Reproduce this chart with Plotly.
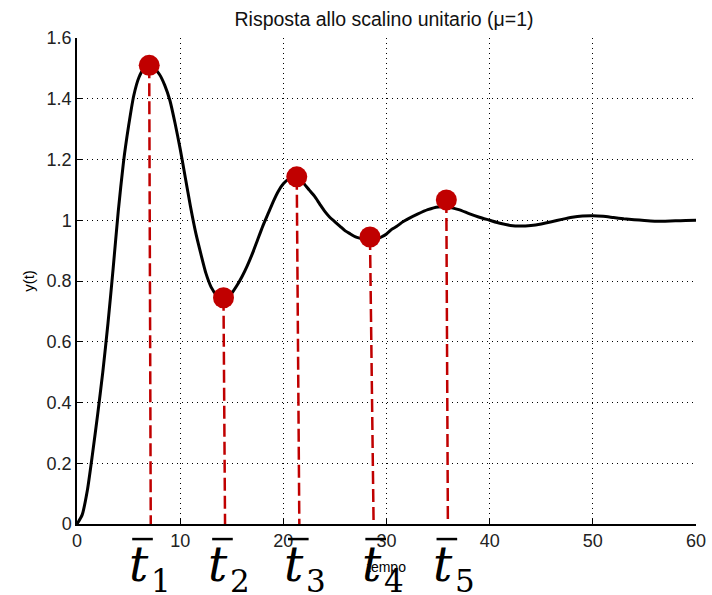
import plotly.graph_objects as go

# Step response
t_vals = [0, 0.5, 1, 1.5, 2, 2.5, 3, 3.5, 4, 4.5, 5, 5.5, 6, 6.5, 7, 7.5, 8, 8.5, 9, 9.5,
          10, 10.5, 11, 11.5, 12, 12.5, 13, 13.5, 14, 14.5, 15, 15.5, 16, 16.5, 17, 17.5,
          18, 18.5, 19, 19.5, 20, 20.5, 21, 21.5, 22, 22.5, 23, 23.5, 24, 24.5, 25, 25.5,
          26, 26.5, 27, 27.5, 28, 28.5, 29, 29.5, 30, 30.5, 31, 31.5, 32, 33, 34, 35, 36,
          37, 38, 39, 40, 41, 42, 43, 44, 45, 46, 47, 48, 49, 50, 51, 52, 53, 54, 55, 56,
          57, 58, 59, 60]
y_vals = [0, 0.03, 0.11, 0.23, 0.36, 0.50, 0.66, 0.84, 1.03, 1.19, 1.31, 1.41, 1.47, 1.50,
          1.51, 1.50, 1.48, 1.445, 1.395, 1.32, 1.235, 1.14, 1.045, 0.96, 0.89, 0.825, 0.78,
          0.755, 0.745, 0.745, 0.76, 0.785, 0.815, 0.85, 0.89, 0.935, 0.98, 1.02, 1.06,
          1.095, 1.12, 1.135, 1.138, 1.135, 1.12, 1.10, 1.08, 1.055, 1.03, 1.01, 0.995,
          0.98, 0.965, 0.955, 0.945, 0.94, 0.935, 0.935, 0.937, 0.945, 0.955, 0.97, 0.98,
          0.993, 1.003, 1.02, 1.035, 1.044, 1.043, 1.035, 1.022, 1.01, 1.0, 0.99, 0.983,
          0.981, 0.983, 0.988, 0.995, 1.003, 1.01, 1.014, 1.015, 1.013, 1.009, 1.005,
          1.002, 0.999, 0.997, 0.997, 0.998, 0.999, 1.0]

# Marked extrema
peak_t = [7.0, 14.2, 21.3, 28.4, 35.8]
peak_y = [1.51, 0.745, 1.143, 0.945, 1.067]
drop_t = [7.15, 14.35, 21.55, 28.75, 35.95]   # where each dashed drop meets the time axis
label_sub = ["1", "2", "3", "4", "5"]
x_ticks = [0, 10, 20, 30, 40, 50, 60]

# layout positions (time units) of the hand-placed t-bar labels
label_pos = [6.35, 14.1, 21.45, 28.95, 35.85]

RED = "#c00000"
fig = go.Figure()

for pt, py, dt in zip(peak_t, peak_y, drop_t):
    fig.add_trace(go.Scatter(x=[pt, dt], y=[py, 0], mode="lines",
                             line=dict(color=RED, width=2.5, dash="13px,5px"),
                             hoverinfo="skip", showlegend=False))

fig.add_trace(go.Scatter(x=t_vals, y=y_vals, mode="lines",
                         line=dict(color="black", width=3, shape="spline", smoothing=0.6),
                         showlegend=False))

fig.add_trace(go.Scatter(x=peak_t, y=peak_y, mode="markers",
                         marker=dict(color=RED, size=21), showlegend=False))

shapes = []
annotations = []
for cx, sub in zip(label_pos, label_sub):
    shapes.append(dict(type="line", xref="x", yref="paper", x0=cx - 1.0, x1=cx + 1.0,
                       y0=-0.031, y1=-0.031, line=dict(color="black", width=2.5)))
    annotations.append(dict(x=cx, y=-0.0206, xref="x", yref="paper", xanchor="center",
                            yanchor="top", xshift=-4, showarrow=False,
                            text="<i>t</i>",
                            font=dict(family="DejaVu Serif", size=48, color="black")))
    annotations.append(dict(x=cx, y=-0.077, xref="x", yref="paper", xanchor="left",
                            yanchor="top", xshift=6, showarrow=False,
                            text=sub,
                            font=dict(family="DejaVu Serif", size=31, color="black")))

fig.update_layout(
    width=712, height=595,
    margin=dict(l=77, r=16, t=38, b=71, pad=0),
    paper_bgcolor="white", plot_bgcolor="white",
    title=dict(text="Risposta allo scalino unitario (\u03bc=1)", x=0.5393, xanchor="center",
               y=0.968, yanchor="middle",
               font=dict(family="Liberation Sans", size=19.5, color="#111")),
    font=dict(family="Liberation Sans", color="black"),
    shapes=shapes, annotations=annotations,
)

axis_style = dict(showgrid=True, gridcolor="black", gridwidth=1, griddash="1px,4px",
                  zeroline=False, showline=True, linecolor="black", linewidth=1.5,
                  ticks="inside", ticklen=6, tickcolor="black", mirror=False,
                  automargin=False,
                  tickfont=dict(family="Liberation Sans", size=18, color="#222"))

fig.update_xaxes(range=[0, 60], tickvals=x_ticks,
                 title=dict(text="tempo", standoff=12,
                            font=dict(family="Liberation Sans", size=14, color="black")),
                 **axis_style)
fig.update_yaxes(range=[0, 1.6], dtick=0.2,
                 title=dict(text="y(t)", standoff=8,
                            font=dict(family="Liberation Sans", size=15, color="black")),
                 **axis_style)

fig.write_html("out.html")
